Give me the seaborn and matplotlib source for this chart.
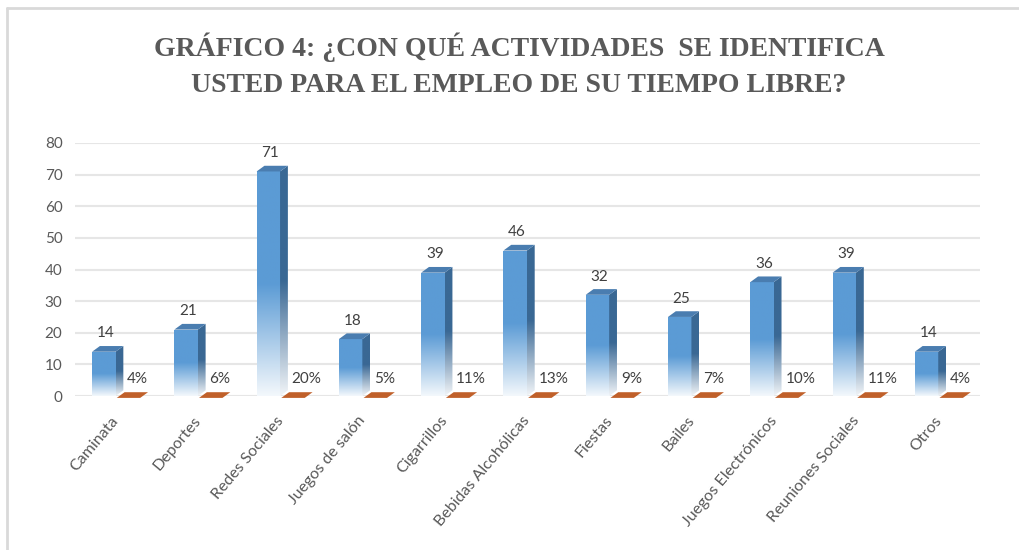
import numpy as np
import pandas as pd
import matplotlib.pyplot as plt
import matplotlib.colors as mcolors
import seaborn as sns
from matplotlib.patches import Polygon
from matplotlib.lines import Line2D

actividades = [
    "Caminata", "Deportes", "Redes Sociales", "Juegos de salón", "Cigarrillos",
    "Bebidas Alcohólicas", "Fiestas", "Bailes", "Juegos Electrónicos",
    "Reuniones Sociales", "Otros",
]
frecuencia = [14, 21, 71, 18, 39, 46, 32, 25, 36, 39, 14]
porcentaje = [4, 6, 20, 5, 11, 13, 9, 7, 10, 11, 4]
y_ticks = [0, 10, 20, 30, 40, 50, 60, 70, 80]

titulo_1 = "GRÁFICO 4: ¿CON QUÉ ACTIVIDADES  SE IDENTIFICA"
titulo_2 = "USTED PARA EL EMPLEO DE SU TIEMPO LIBRE?"

AZUL = "#5B9BD5"
AZUL_LADO = "#3A6894"
AZUL_TECHO = "#4A7DB0"
NARANJA = "#C0602A"
GRIS = "#595959"

n = len(actividades)
df = pd.DataFrame({
    "actividad": actividades * 2,
    "serie": ["Frecuencia"] * n + ["Porcentaje"] * n,
    # the percentage series sits on the floor, its height is the fraction
    "valor": frecuencia + [p / 100 for p in porcentaje],
})

sns.set_style("white")
plt.rcParams["font.family"] = ["Lato", "DejaVu Sans"]

fig = plt.figure(figsize=(10.19, 5.5), dpi=100)
ax = fig.add_axes([75 / 1019, 1 - 396 / 550, 905 / 1019, 253 / 550])

sns.barplot(data=df, x="actividad", y="valor", hue="serie",
            palette=[AZUL, NARANJA], width=0.6, gap=0.05, errorbar=None,
            legend=False, ax=ax, zorder=3)


def gradiente(color, inicio=0.07, solido=0.5, pasos=256):
    t = np.linspace(0, 1, pasos)
    m = inicio + (1 - inicio) * np.clip(t / solido, 0, 1)
    rgb = np.array(mcolors.to_rgb(color))
    img = 1 - m[:, None] * (1 - rgb[None, :])
    return img[:, None, :]


dx = 0.095  # depth offset, x data units
dy = 1.8    # depth offset, y data units

azules, naranjas = ax.containers[0], ax.containers[1]

for p, v in zip(azules, frecuencia):
    x0, w, h = p.get_x(), p.get_width(), p.get_height()
    x1 = x0 + w
    p.set_facecolor("none")
    p.set_edgecolor("none")
    im = ax.imshow(gradiente(AZUL), extent=[x0, x1, 0, h], origin="lower",
                   aspect="auto", interpolation="bilinear", zorder=3)
    im.set_clip_path(p)
    lado = Polygon([(x1, 0), (x1 + dx, dy), (x1 + dx, h + dy), (x1, h)],
                   closed=True, facecolor="none", edgecolor="none", zorder=3)
    ax.add_patch(lado)
    im2 = ax.imshow(gradiente(AZUL_LADO), extent=[x1, x1 + dx, 0, h + dy],
                    origin="lower", aspect="auto", interpolation="bilinear",
                    zorder=3)
    im2.set_clip_path(lado)
    ax.add_patch(Polygon([(x0, h), (x1, h), (x1 + dx, h + dy), (x0 + dx, h + dy)],
                         closed=True, facecolor=AZUL_TECHO, edgecolor="none",
                         zorder=4))
    ax.annotate(f"{v}", (x0 + w / 2 + dx / 4, h + dy), xytext=(0, 4),
                textcoords="offset points", ha="center", va="bottom",
                fontsize=11, color="#404040")

for p, v in zip(naranjas, porcentaje):
    x0, w = p.get_x(), p.get_width()
    p.set_visible(False)
    b = -0.6
    ax.add_patch(Polygon([(x0, b), (x0 + w, b), (x0 + w + dx, b + dy),
                          (x0 + dx, b + dy)], closed=True, facecolor=NARANJA,
                         edgecolor="none", zorder=4, clip_on=False))
    ax.annotate(f"{v}%", (x0, 0), xytext=(7.5, 7), textcoords="offset points",
                ha="left", va="bottom", fontsize=11, color="#404040")

ax.set_xlim(-0.5, n - 0.5)
ax.set_ylim(0, 80)
ax.set_yticks(y_ticks)
ax.set_yticklabels([str(t) for t in y_ticks])
ax.yaxis.grid(True, color="#e6e6e6", linewidth=1.5, zorder=0)
ax.set_axisbelow(True)
ax.set_xlabel("")
ax.set_ylabel("")
sns.despine(ax=ax, left=True, bottom=True)
ax.tick_params(axis="y", length=0, pad=9, labelsize=11, labelcolor=GRIS)
ax.tick_params(axis="x", length=0, pad=16, labelsize=11.5, labelcolor=GRIS)
for lbl in ax.get_xticklabels():
    lbl.set_rotation(50)
    lbl.set_ha("right")
    lbl.set_va("center")
    lbl.set_rotation_mode("anchor")

fig.text(519 / 1019, 1 - 47 / 550, titulo_1, ha="center", va="center",
         fontsize=20, fontweight="bold", color=GRIS, family="Liberation Serif")
fig.text(519 / 1019, 1 - 86 / 550, titulo_2, ha="center", va="center",
         fontsize=20, fontweight="bold", color=GRIS, family="Liberation Serif")

# light frame on the top and left edges
fig.add_artist(Line2D([7 / 1019, 1], [1 - 8 / 550, 1 - 8 / 550],
                      color="#d9d9d9", linewidth=2, transform=fig.transFigure))
fig.add_artist(Line2D([7 / 1019, 7 / 1019], [0, 1 - 8 / 550],
                      color="#d9d9d9", linewidth=2, transform=fig.transFigure))

fig.savefig("out.png", dpi=100)
